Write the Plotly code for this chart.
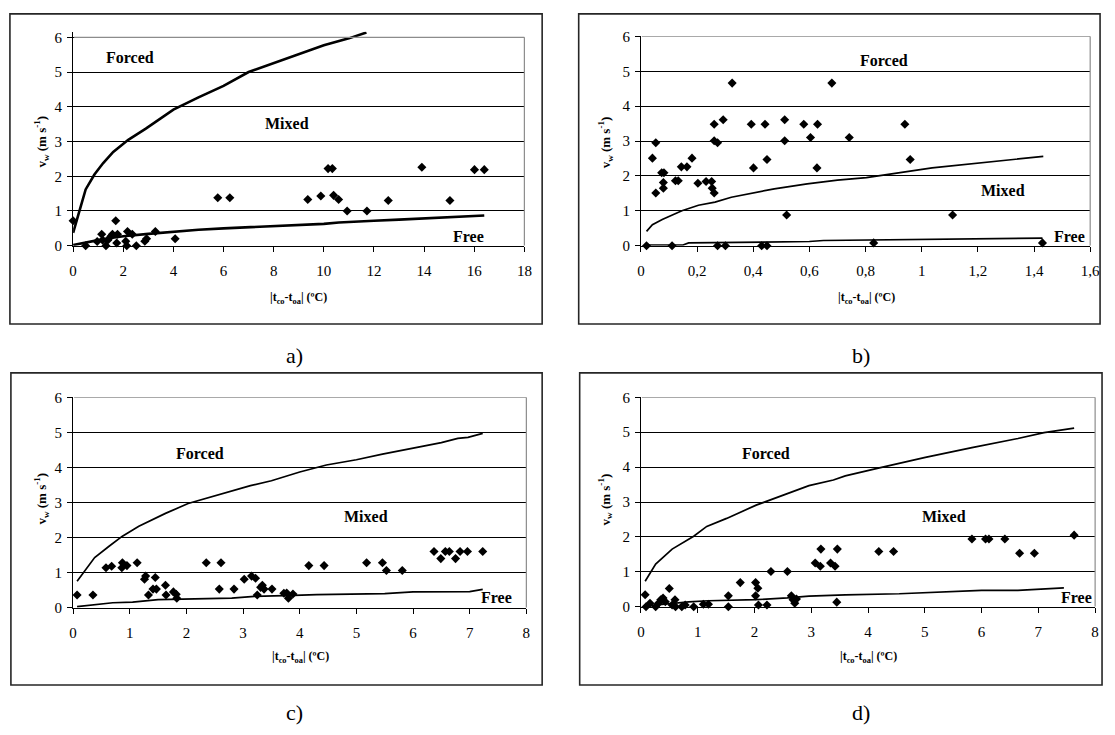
import plotly.graph_objects as go

# ---------------- data ----------------
# a) |tco-toa| range 0-18
a_x = [0.0, 0.5, 0.96, 1.14, 1.18, 1.31, 1.38, 1.51, 1.57, 1.70, 1.74, 1.77, 2.10, 2.14, 2.17,
       2.36, 2.52, 2.86, 2.93, 3.28, 4.07, 5.77, 6.25, 9.36, 9.88, 10.17, 10.34, 10.39, 10.59,
       10.93, 11.72, 12.57, 13.91, 15.03, 16.01, 16.40]
a_y = [0.72, 0.0, 0.12, 0.33, 0.16, 0.0, 0.16, 0.27, 0.33, 0.72, 0.08, 0.33, 0.13, 0.0, 0.41,
       0.33, 0.0, 0.13, 0.2, 0.41, 0.2, 1.38, 1.38, 1.33, 1.43, 2.22, 2.22, 1.45, 1.33,
       1.0, 1.0, 1.30, 2.26, 1.30, 2.19, 2.19]
a_forced_x = [0, 0.5, 0.85, 1.2, 1.6, 2.2, 2.9, 4.0, 5.0, 6.0, 7.0, 8.0, 9.0, 10.0, 11.0, 11.7]
a_forced_y = [0.37, 1.62, 2.05, 2.38, 2.7, 3.05, 3.37, 3.92, 4.27, 4.6, 5.0, 5.25, 5.5, 5.77, 5.97, 6.14]
a_free_x = [0, 0.5, 1, 1.5, 2, 3, 4, 5, 6, 7, 8, 9, 10, 10.6, 11, 12, 13, 14, 15, 16.4]
a_free_y = [0.02, 0.1, 0.16, 0.22, 0.27, 0.34, 0.41, 0.46, 0.5, 0.53, 0.57, 0.6, 0.63, 0.67,
            0.69, 0.72, 0.75, 0.79, 0.83, 0.87]

# b) |tco-toa| range 0-1.6
b_x = [0.02, 0.041, 0.053, 0.053, 0.074, 0.082, 0.080, 0.080, 0.111, 0.123, 0.133, 0.144,
       0.164, 0.182, 0.203, 0.232, 0.252, 0.254, 0.261, 0.261, 0.261, 0.273, 0.273, 0.293,
       0.301, 0.325, 0.393, 0.401, 0.43, 0.442, 0.449, 0.449, 0.512, 0.512, 0.519, 0.580,
       0.604, 0.627, 0.629, 0.680, 0.742, 0.829, 0.940, 0.959, 1.110, 1.430]
b_y = [0.0, 2.51, 2.95, 1.51, 2.09, 2.09, 1.81, 1.65, 0.0, 1.86, 1.86, 2.26,
       2.26, 2.51, 1.79, 1.84, 1.84, 1.65, 1.51, 3.48, 3.01, 2.95, 0.0, 3.61,
       0.0, 4.66, 3.48, 2.23, 0.0, 3.48, 2.47, 0.0, 3.61, 3.01, 0.88, 3.48,
       3.10, 2.23, 3.48, 4.66, 3.10, 0.08, 3.48, 2.47, 0.88, 0.08]
b_forced_x = [0.02, 0.041, 0.076, 0.111, 0.146, 0.205, 0.264, 0.322, 0.404, 0.475, 0.592,
              0.70, 0.803, 1.037, 1.433]
b_forced_y = [0.41, 0.6, 0.75, 0.88, 1.0, 1.16, 1.25, 1.39, 1.53, 1.63, 1.77, 1.88, 1.95,
              2.23, 2.56]
b_free_x = [0.02, 0.15, 0.17, 0.4, 0.6, 0.65, 0.96, 1.43]
b_free_y = [0.02, 0.02, 0.08, 0.1, 0.12, 0.15, 0.18, 0.22]

# c) |tco-toa| range 0-8
c_x = [0.07, 0.35, 0.58, 0.68, 0.86, 0.87, 0.95, 1.13, 1.26, 1.28, 1.33, 1.41, 1.45, 1.47,
       1.63, 1.64, 1.77, 1.82, 1.83, 2.35, 2.58, 2.61, 2.84, 3.02, 3.15, 3.22, 3.25, 3.31,
       3.34, 3.37, 3.51, 3.72, 3.77, 3.80, 3.88, 4.16, 4.43, 5.18, 5.46, 5.53, 5.81, 6.37,
       6.49, 6.57, 6.64, 6.75, 6.83, 6.96, 7.23]
c_y = [0.36, 0.36, 1.14, 1.18, 1.14, 1.28, 1.2, 1.28, 0.81, 0.90, 0.36, 0.53, 0.86, 0.53,
       0.64, 0.36, 0.45, 0.38, 0.27, 1.28, 0.53, 1.28, 0.53, 0.81, 0.90, 0.84, 0.36, 0.58,
       0.64, 0.53, 0.53, 0.41, 0.42, 0.27, 0.39, 1.2, 1.2, 1.28, 1.28, 1.06, 1.06, 1.6,
       1.4, 1.6, 1.6, 1.4, 1.6, 1.6, 1.6]
c_forced_x = [0.07, 0.38, 0.64, 0.87, 1.16, 1.63, 2.03, 2.61, 3.13, 3.5, 4.0, 4.47, 5.0,
              5.46, 6.0, 6.5, 6.79, 6.97, 7.23]
c_forced_y = [0.75, 1.43, 1.76, 2.04, 2.32, 2.69, 2.97, 3.25, 3.48, 3.62, 3.87, 4.07, 4.22,
              4.38, 4.56, 4.71, 4.83, 4.86, 4.97]
c_free_x = [0.07, 0.7, 1.05, 1.3, 1.5, 2.8, 3.2, 3.9, 4.3, 5.5, 6.0, 7.0, 7.23]
c_free_y = [0.03, 0.14, 0.16, 0.2, 0.23, 0.27, 0.32, 0.35, 0.37, 0.4, 0.45, 0.46, 0.52]

# d) |tco-toa| range 0-8
d_x = [0.075, 0.09, 0.16, 0.26, 0.31, 0.35, 0.39, 0.43, 0.50, 0.55, 0.60, 0.61, 0.72, 0.78,
       0.93, 1.10, 1.19, 1.54, 1.54, 1.75, 2.02, 2.02, 2.06, 2.07, 2.22, 2.29, 2.58, 2.65,
       2.68, 2.71, 2.74, 3.07, 3.16, 3.17, 3.34, 3.42, 3.45, 3.46, 4.19, 4.45, 5.83, 6.07,
       6.13, 6.41, 6.67, 6.93, 7.63]
d_y = [0.34, 0.0, 0.1, 0.0, 0.1, 0.2, 0.25, 0.14, 0.52, 0.05, 0.2, 0.0, 0.0, 0.05,
       0.0, 0.07, 0.07, 0.31, 0.0, 0.69, 0.69, 0.31, 0.53, 0.05, 0.05, 1.01, 1.01, 0.31,
       0.2, 0.1, 0.22, 1.25, 1.16, 1.65, 1.25, 1.16, 0.13, 1.65, 1.58, 1.58, 1.94, 1.94,
       1.94, 1.94, 1.53, 1.53, 2.05]
d_forced_x = [0.075, 0.26, 0.55, 0.93, 1.16, 1.51, 2.03, 2.49, 2.96, 3.39, 3.6, 4.2, 5.01,
              5.83, 6.12, 6.64, 7.1, 7.63]
d_forced_y = [0.73, 1.22, 1.65, 2.02, 2.3, 2.53, 2.91, 3.19, 3.47, 3.63, 3.75, 3.98, 4.28,
              4.56, 4.65, 4.82, 4.99, 5.12]
d_free_x = [0.09, 0.61, 0.84, 1.19, 2.03, 2.58, 2.96, 3.6, 4.55, 6.0, 6.64, 7.45]
d_free_y = [0.02, 0.1, 0.14, 0.17, 0.2, 0.25, 0.3, 0.34, 0.37, 0.47, 0.47, 0.54]

y_ticks = [0, 1, 2, 3, 4, 5, 6]
x_ticks_a = [0, 2, 4, 6, 8, 10, 12, 14, 16, 18]
x_ticks_b = [0, 0.2, 0.4, 0.6, 0.8, 1.0, 1.2, 1.4, 1.6]
x_ticks_cd = [0, 1, 2, 3, 4, 5, 6, 7, 8]
panel_letters = ["a)", "b)", "c)", "d)"]
region_names = ["Forced", "Mixed", "Free"]

# ---------------- layout helpers ----------------
W, H = 1115, 735


def px(x):
    return x / W


def py(y):
    return 1 - y / H


SERIF = "Liberation Serif"

panels = [
    dict(pts=(a_x, a_y), forced=(a_forced_x, a_forced_y), free=(a_free_x, a_free_y),
         xr=[0, 18], xt=x_ticks_a, yr=[0, 6.16], area=(70, 527, 24.3, 243), lw=2.6,
         frame=(6, 6, 545, 323), ytitle=(38, 137), xtitle=(298, 296), letter=(294, 355),
         labels=[(2.26, 5.42), (8.53, 3.52), (15.78, 0.27)]),
    dict(pts=(b_x, b_y), forced=(b_forced_x, b_forced_y), free=(b_free_x, b_free_y),
         xr=[0, 1.6], xt=x_ticks_b, yr=[0, 6], area=(645, 1100, 29, 243), lw=1.7,
         frame=(582, 6, 1110, 323), ytitle=(609, 137), xtitle=(873, 296), letter=(868, 355),
         labels=[(0.867, 5.30), (1.29, 1.58), (1.527, 0.27)]),
    dict(pts=(c_x, c_y), forced=(c_forced_x, c_forced_y), free=(c_free_x, c_free_y),
         xr=[0, 8], xt=x_ticks_cd, yr=[0, 6], area=(70, 529, 398, 613), lw=1.7,
         frame=(7, 373, 545, 692), ytitle=(38, 502), xtitle=(300, 663), letter=(294, 720),
         labels=[(2.24, 4.41), (5.17, 2.6), (7.48, 0.3)]),
    dict(pts=(d_x, d_y), forced=(d_forced_x, d_forced_y), free=(d_free_x, d_free_y),
         xr=[0, 8], xt=x_ticks_cd, yr=[0, 6], area=(645, 1105, 398, 612), lw=1.7,
         frame=(583, 373, 1112, 692), ytitle=(609, 502), xtitle=(875, 663), letter=(868, 720),
         labels=[(2.20, 4.40), (5.34, 2.58), (7.68, 0.27)]),
]

fig = go.Figure()
layout = dict(
    width=W, height=H, margin=dict(l=0, r=0, t=0, b=0),
    paper_bgcolor="white", plot_bgcolor="white", showlegend=False,
    separators=",.",
    font=dict(family=SERIF, color="black"),
)
shapes = []
annotations = []

for i, p in enumerate(panels, start=1):
    xa = "x" if i == 1 else f"x{i}"
    ya = "y" if i == 1 else f"y{i}"
    l, r, t, b = p["area"]

    # measured points
    fig.add_trace(go.Scatter(
        x=p["pts"][0], y=p["pts"][1], mode="markers", xaxis=xa, yaxis=ya,
        marker=dict(symbol="diamond", size=7, color="black", line=dict(width=0)),
        cliponaxis=False))
    # forced / mixed boundary
    fig.add_trace(go.Scatter(
        x=p["forced"][0], y=p["forced"][1], mode="lines", xaxis=xa, yaxis=ya,
        line=dict(color="black", width=p["lw"])))
    # mixed / free boundary
    fig.add_trace(go.Scatter(
        x=p["free"][0], y=p["free"][1], mode="lines", xaxis=xa, yaxis=ya,
        line=dict(color="black", width=p["lw"])))

    tickfont = dict(family=SERIF, size=15, color="black")
    layout["xaxis" if i == 1 else f"xaxis{i}"] = dict(
        domain=[px(l), px(r)], range=p["xr"], anchor=ya,
        showline=True, linecolor="black", linewidth=1,
        ticks="outside", ticklen=5, tickwidth=1, tickcolor="black",
        tickmode="array", tickvals=p["xt"], showgrid=False, zeroline=False,
        tickfont=tickfont, ticklabelstandoff=6, fixedrange=True)
    layout["yaxis" if i == 1 else f"yaxis{i}"] = dict(
        domain=[py(b), py(t)], range=p["yr"], anchor=xa,
        showline=True, linecolor="black", linewidth=1,
        ticks="outside", ticklen=5, tickwidth=1, tickcolor="black",
        tickmode="array", tickvals=y_ticks, showgrid=True, gridcolor="black",
        gridwidth=1, zeroline=False, tickfont=tickfont, ticklabelstandoff=2,
        fixedrange=True)

    # grey plot-area border (top at 6, right side)
    shapes.append(dict(type="line", xref="paper", yref=ya, x0=px(l + 1), x1=px(r), y0=6, y1=6,
                       line=dict(color="#8c8c8c", width=1.2), layer="above"))
    shapes.append(dict(type="line", xref="paper", yref=ya, x0=px(r), x1=px(r), y0=0, y1=6,
                       line=dict(color="#8c8c8c", width=1.2), layer="above"))

    # chart frame
    fx0, fy0, fx1, fy1 = p["frame"]
    shapes.append(dict(type="rect", xref="paper", yref="paper",
                       x0=px(fx0), x1=px(fx1), y0=py(fy1), y1=py(fy0),
                       line=dict(color="#262626", width=1.6), layer="above"))

    # axis titles
    annotations.append(dict(
        text="<b>v<sub>w</sub> (m s<sup>-1</sup>)</b>", textangle=-90,
        xref="paper", yref="paper", x=px(p["ytitle"][0]), y=py(p["ytitle"][1]),
        xanchor="center", yanchor="middle", showarrow=False,
        font=dict(family=SERIF, size=13, color="black")))
    annotations.append(dict(
        text="<b>|t<sub>co</sub>-t<sub>oa</sub>| (ºC)</b>",
        xref="paper", yref="paper", x=px(p["xtitle"][0]), y=py(p["xtitle"][1]),
        xanchor="center", yanchor="middle", showarrow=False,
        font=dict(family=SERIF, size=12, color="black")))

    # region names
    for name, (lx, ly) in zip(region_names, p["labels"]):
        annotations.append(dict(
            text=f"<b>{name}</b>", xref=xa, yref=ya, x=lx, y=ly,
            xanchor="center", yanchor="middle", showarrow=False,
            font=dict(family=SERIF, size=16, color="black")))

    # panel letter
    annotations.append(dict(
        text=panel_letters[i - 1], xref="paper", yref="paper",
        x=px(p["letter"][0]), y=py(p["letter"][1]),
        xanchor="center", yanchor="middle", showarrow=False,
        font=dict(family=SERIF, size=22, color="black")))

layout["shapes"] = shapes
layout["annotations"] = annotations
fig.update_layout(**layout)
fig.write_html("out.html")
